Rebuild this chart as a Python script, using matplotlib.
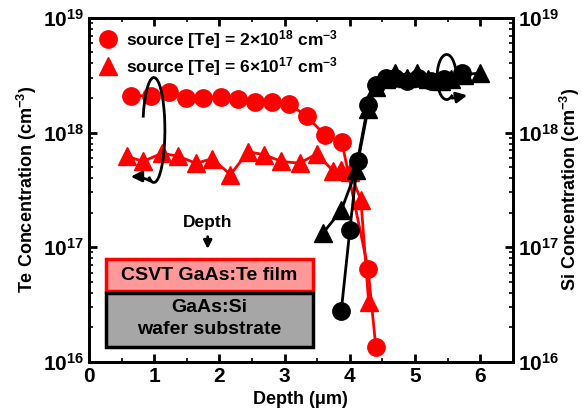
import numpy as np
import matplotlib
matplotlib.use("Agg")
import matplotlib.pyplot as plt
from matplotlib.patches import Arc, Rectangle
from matplotlib.lines import Line2D

plt.rcParams['font.family'] = ['Liberation Sans', 'DejaVu Sans']
plt.rcParams['font.weight'] = 'bold'
plt.rcParams['mathtext.fontset'] = 'custom'
plt.rcParams['mathtext.rm'] = 'Liberation Sans:bold'
plt.rcParams['mathtext.bf'] = 'Liberation Sans:bold'
plt.rcParams['mathtext.default'] = 'bf'

# Te profile, source [Te] = 2e18 (red circles)
te_hi_x = [0.64, 0.95, 1.22, 1.49, 1.75, 2.02, 2.28, 2.54, 2.80, 3.07, 3.34, 3.62, 3.88, 4.28, 4.40]
te_hi_y = [2.09e18, 2.09e18, 2.24e18, 2.0e18, 2.0e18, 2.04e18, 1.96e18, 1.85e18, 1.85e18,
           1.78e18, 1.38e18, 9.5e17, 8.2e17, 6.5e16, 1.34e16]

# Te profile, source [Te] = 6e17 (red triangles)
te_lo_x = [0.58, 0.83, 1.12, 1.37, 1.64, 1.89, 2.17, 2.44, 2.69, 2.95, 3.23, 3.49, 3.75, 3.87, 4.0, 4.17, 4.29]
te_lo_y = [6.2e17, 5.6e17, 6.6e17, 6.2e17, 5.4e17, 5.9e17, 4.3e17, 6.8e17, 6.4e17, 5.6e17,
           5.4e17, 6.5e17, 4.6e17, 4.7e17, 4.5e17, 2.6e17, 3.3e16]

# Si profile, sample with 2e18 source (black circles)
si_hi_x = [3.87, 4.00, 4.12, 4.28, 4.40, 4.55, 4.70, 4.88, 5.05, 5.25, 5.45, 5.72]
si_hi_y = [2.8e16, 1.4e17, 5.7e17, 1.75e18, 2.6e18, 3.0e18, 3.0e18, 2.8e18, 3.0e18, 2.8e18, 2.9e18, 3.3e18]

# Si profile, sample with 6e17 source (black triangles)
si_lo_x = [3.59, 3.87, 4.10, 4.28, 4.40, 4.55, 4.70, 4.88, 5.03, 5.20, 5.40, 5.55, 5.75, 6.0]
si_lo_y = [1.33e17, 2.1e17, 4.7e17, 1.6e18, 2.5e18, 2.9e18, 3.3e18, 3.0e18, 3.3e18, 2.9e18,
           2.8e18, 2.9e18, 3.2e18, 3.3e18]

fig = plt.figure(figsize=(5.82, 4.15), dpi=100)
ax = fig.add_axes([0.153, 0.128, 0.728, 0.829])
ax2 = ax.twinx()

ms = 12.5
ax.plot(te_hi_x, te_hi_y, '-o', color='red', lw=2, ms=ms, zorder=3)
ax.plot(te_lo_x, te_lo_y, '-^', color='red', lw=2, ms=ms, zorder=3)
ax2.plot(si_hi_x, si_hi_y, '-o', color='black', lw=2, ms=ms)
ax2.plot(si_lo_x, si_lo_y, '-^', color='black', lw=2, ms=ms)

for a in (ax, ax2):
    a.set_yscale('log')
    a.set_ylim(1e16, 1e19)
    a.set_xlim(0, 6.5)
    for s in a.spines.values():
        s.set_linewidth(2)
    a.tick_params(which='major', direction='in', length=6, width=2, labelsize=15)
    a.tick_params(which='minor', direction='in', length=3, width=1.2)

ax.set_xticks([0, 1, 2, 3, 4, 5, 6])
ax.set_xticks(np.arange(0.5, 6.5, 1.0), minor=True)
ax.tick_params(axis='x', which='both', top=True)
ax.tick_params(axis='y', which='both', right=False)
ax.set_yticks([1e16, 1e17, 1e18, 1e19])
ax.set_yticklabels([r'$10^{16}$', r'$10^{17}$', r'$10^{18}$', r'$10^{19}$'])
ax2.set_yticks([1e16, 1e17, 1e18, 1e19])
ax2.set_yticklabels([r'$10^{16}$', r'$10^{17}$', r'$10^{18}$', r'$10^{19}$'])

ax.set_xlabel('Depth (\u03bcm)', fontsize=13, fontweight='bold')
ax.set_ylabel(r'Te Concentration (cm$^{-3}$)', fontsize=13, fontweight='bold')
ax2.set_ylabel(r'Si Concentration (cm$^{-3}$)', fontsize=13, fontweight='bold')
ax.xaxis.set_label_coords(0.5, -0.085)
ax.yaxis.set_label_coords(-0.118, 0.5)
ax2.yaxis.set_label_coords(1.106, 0.5)

handles = [Line2D([], [], ls='none', marker='o', color='red', ms=ms),
           Line2D([], [], ls='none', marker='^', color='red', ms=ms)]
labels = [r'source [Te] = 2$\times$10$^{18}$ cm$^{-3}$',
          r'source [Te] = 6$\times$10$^{17}$ cm$^{-3}$']
ax2.legend(handles, labels, loc='upper left', frameon=False, fontsize=12.5,
           handlelength=1.0, handletextpad=0.5, borderaxespad=0.2, borderpad=0.4,
           labelspacing=0.2, bbox_to_anchor=(0.0, 1.0))

# circled arrows marking which axis each group belongs to
ax2.add_patch(Arc((0.153, 0.674), 0.052, 0.305, theta1=-95, theta2=125,
                  transform=ax.transAxes, lw=2, color='black', zorder=6))
ax2.annotate('', xy=(0.092, 0.538), xytext=(0.151, 0.522), xycoords='axes fraction',
             arrowprops=dict(arrowstyle='-|>', color='black', lw=2,
                             connectionstyle='arc3,rad=0.15', mutation_scale=16))
ax2.add_patch(Arc((0.844, 0.828), 0.045, 0.131, theta1=50, theta2=285,
                  transform=ax.transAxes, lw=2, color='black', zorder=6))
ax2.annotate('', xy=(0.899, 0.776), xytext=(0.850, 0.765), xycoords='axes fraction',
             arrowprops=dict(arrowstyle='-|>', color='black', lw=2,
                             connectionstyle='arc3,rad=0', mutation_scale=16))

# layer sketch
ax2.add_patch(Rectangle((0.040, 0.207), 0.488, 0.092, transform=ax.transAxes,
                        facecolor='#ff9999', edgecolor='red', lw=2.5, zorder=5))
ax2.add_patch(Rectangle((0.040, 0.044), 0.488, 0.156, transform=ax.transAxes,
                        facecolor='#a6a6a6', edgecolor='black', lw=2.5, zorder=5))
ax2.text(0.284, 0.250, 'CSVT GaAs:Te film', transform=ax.transAxes, ha='center',
         va='center', fontsize=14, fontweight='bold', zorder=7)
ax2.text(0.284, 0.157, 'GaAs:Si', transform=ax.transAxes, ha='center',
         va='center', fontsize=14, fontweight='bold', zorder=7)
ax2.text(0.284, 0.093, 'wafer substrate', transform=ax.transAxes, ha='center',
         va='center', fontsize=14, fontweight='bold', zorder=7)
ax2.text(0.280, 0.405, 'Depth', transform=ax.transAxes, ha='center',
         va='center', fontsize=12.5, fontweight='bold')
ax2.annotate('', xy=(0.280, 0.320), xytext=(0.280, 0.372), xycoords='axes fraction',
             arrowprops=dict(arrowstyle='-|>', color='black', lw=2, mutation_scale=12))

fig.savefig('out.png', dpi=100)
